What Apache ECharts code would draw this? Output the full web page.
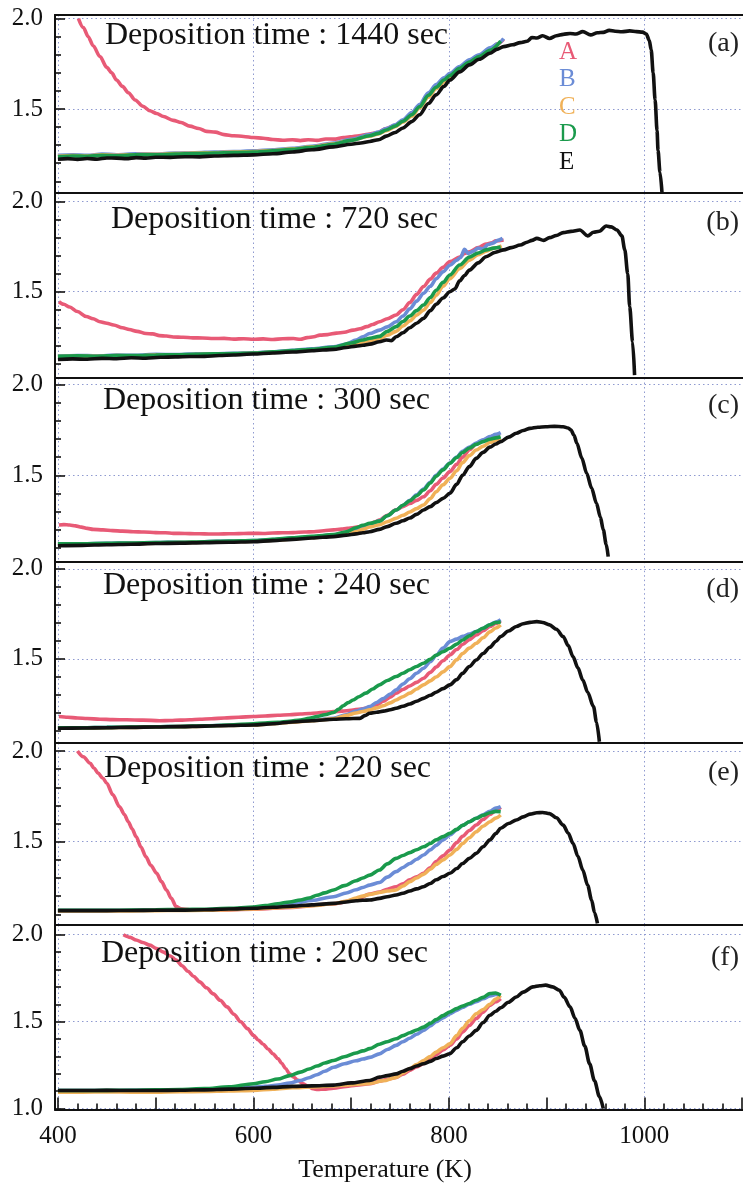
<!DOCTYPE html>
<html><head><meta charset="utf-8">
<script src="https://cdn.jsdelivr.net/npm/echarts@6/dist/echarts.min.js"></script>
<style>html,body{margin:0;padding:0;background:#fff}#c{width:743px;height:1186px}</style>
</head><body><div id="c"></div>
<script>
// ---------------- DATA ----------------
const seriesNames = ['A','B','C','D','E'];
const titles = ['Deposition time : 1440 sec','Deposition time : 720 sec','Deposition time : 300 sec','Deposition time : 240 sec','Deposition time : 220 sec','Deposition time : 200 sec'];
const panelTags = ['(a)','(b)','(c)','(d)','(e)','(f)'];
const xTickLabels = [400,600,800,1000];
const yTickLabels = [1.0,1.5,2.0];
const xName = 'Temperature (K)';

// (a) 1440 sec
const a_A = [[421,2.00],[426,1.95],[431,1.90],[436,1.85],[443,1.79],[450,1.73],[455,1.70],[460,1.66],[466,1.625],[472,1.59],[479,1.55],[487,1.515],[494,1.49],[501,1.475],[508,1.458],[518,1.437],[526,1.425],[535,1.405],[544,1.392],[552,1.376],[561,1.372],[570,1.358],[580,1.352],[590,1.348],[600,1.342],[610,1.338],[620,1.331],[630,1.327],[640,1.33],[648,1.325],[656,1.33],[665,1.326],[674,1.334],[684,1.333],[692,1.342],[699,1.346],[708,1.352],[717,1.36],[726,1.368],[736,1.392],[745,1.41],[753,1.435],[762,1.47],[770,1.515],[779,1.575],[787,1.628],[795,1.665],[801,1.69],[811,1.73],[821,1.765],[831,1.795],[842,1.83],[850,1.86],[856,1.885]];
const a_B = [[400,1.243],[415,1.246],[430,1.244],[445,1.25],[460,1.247],[480,1.252],[500,1.251],[520,1.256],[540,1.258],[560,1.262],[580,1.264],[600,1.268],[620,1.274],[640,1.283],[660,1.294],[682,1.312],[700,1.332],[719,1.358],[728,1.372],[736,1.392],[745,1.412],[753,1.44],[762,1.48],[770,1.525],[779,1.59],[787,1.635],[795,1.672],[801,1.697],[811,1.735],[821,1.772],[831,1.8],[842,1.838],[850,1.86],[856,1.89]];
const a_C = [[400,1.238],[415,1.242],[430,1.24],[445,1.246],[460,1.244],[480,1.248],[500,1.249],[520,1.253],[540,1.256],[560,1.258],[580,1.262],[600,1.265],[620,1.27],[640,1.279],[660,1.29],[682,1.307],[700,1.327],[719,1.35],[728,1.362],[736,1.38],[745,1.402],[753,1.428],[762,1.46],[770,1.505],[779,1.565],[787,1.612],[795,1.65],[801,1.678],[811,1.72],[821,1.755],[831,1.787],[842,1.82],[852,1.868]];
const a_D = [[400,1.236],[415,1.24],[430,1.238],[445,1.243],[460,1.241],[480,1.246],[500,1.246],[520,1.25],[540,1.253],[560,1.256],[580,1.259],[600,1.262],[620,1.268],[640,1.277],[660,1.288],[682,1.305],[700,1.326],[719,1.352],[728,1.365],[736,1.384],[745,1.405],[753,1.432],[762,1.468],[770,1.512],[779,1.575],[787,1.62],[795,1.66],[801,1.685],[811,1.725],[821,1.76],[831,1.79],[842,1.825],[853,1.876]];
const a_E = [[400,1.222],[410,1.225],[420,1.221],[430,1.226],[440,1.222],[450,1.229],[460,1.228],[470,1.225],[480,1.231],[490,1.228],[500,1.233],[515,1.232],[530,1.236],[545,1.235],[560,1.24],[580,1.243],[600,1.246],[620,1.252],[640,1.262],[660,1.274],[682,1.29],[700,1.305],[710,1.312],[719,1.32],[728,1.33],[736,1.35],[745,1.37],[753,1.395],[762,1.43],[770,1.468],[779,1.53],[787,1.578],[795,1.625],[801,1.66],[811,1.705],[821,1.744],[831,1.775],[842,1.808],[849,1.83],[856,1.845],[865,1.855],[873,1.867],[880,1.875],[885,1.895],[890,1.893],[896,1.905],[903,1.89],[910,1.905],[917,1.913],[924,1.918],[930,1.915],[937,1.928],[945,1.91],[952,1.922],[958,1.924],[964,1.935],[970,1.93],[977,1.927],[985,1.932],[992,1.928],[998,1.925],[1002,1.915],[1005,1.88],[1007,1.827],[1009,1.70],[1011,1.55],[1013,1.38],[1014,1.27],[1016,1.15],[1018,1.04]];

// (b) 720 sec
const b_A = [[401,1.444],[406,1.43],[412,1.415],[420,1.39],[429,1.362],[436,1.35],[443,1.333],[450,1.325],[457,1.315],[466,1.3],[473,1.29],[481,1.28],[490,1.268],[497,1.266],[504,1.256],[511,1.254],[518,1.249],[528,1.247],[538,1.244],[548,1.243],[559,1.24],[570,1.241],[580,1.237],[590,1.239],[600,1.236],[610,1.238],[620,1.235],[630,1.239],[641,1.24],[648,1.236],[655,1.245],[662,1.25],[668,1.259],[676,1.262],[685,1.27],[693,1.275],[702,1.287],[709,1.294],[716,1.306],[722,1.318],[729,1.333],[737,1.35],[746,1.371],[753,1.4],[760,1.44],[767,1.485],[774,1.528],[781,1.57],[787,1.603],[794,1.635],[801,1.667],[811,1.692],[816,1.712],[821,1.722],[830,1.745],[838,1.765],[844,1.772],[848,1.782],[856,1.787]];
const b_B = [[400,1.143],[420,1.146],[440,1.144],[460,1.148],[480,1.147],[500,1.152],[520,1.151],[540,1.155],[560,1.156],[580,1.158],[600,1.161],[620,1.167],[640,1.175],[660,1.183],[682,1.194],[695,1.21],[705,1.232],[712,1.25],[719,1.268],[729,1.287],[737,1.305],[746,1.333],[753,1.365],[760,1.405],[767,1.448],[774,1.491],[781,1.53],[787,1.572],[794,1.61],[801,1.647],[808,1.675],[812,1.69],[816,1.735],[820,1.712],[825,1.725],[830,1.742],[835,1.738],[840,1.762],[845,1.77],[850,1.785],[855,1.796]];
const b_C = [[400,1.14],[420,1.143],[440,1.141],[460,1.145],[480,1.144],[500,1.148],[520,1.148],[540,1.151],[560,1.153],[580,1.155],[600,1.158],[620,1.163],[640,1.17],[660,1.178],[682,1.188],[700,1.205],[719,1.228],[729,1.24],[737,1.258],[746,1.28],[753,1.31],[760,1.338],[767,1.37],[774,1.398],[781,1.44],[787,1.48],[794,1.53],[801,1.572],[811,1.628],[821,1.675],[830,1.705],[838,1.725],[846,1.742],[854,1.755]];
const b_D = [[400,1.141],[420,1.144],[440,1.142],[460,1.146],[480,1.145],[500,1.149],[520,1.15],[540,1.153],[560,1.155],[580,1.157],[600,1.16],[620,1.166],[640,1.173],[660,1.181],[682,1.192],[700,1.215],[712,1.232],[719,1.242],[729,1.252],[737,1.28],[746,1.306],[753,1.335],[760,1.365],[767,1.395],[774,1.426],[781,1.468],[787,1.508],[794,1.552],[801,1.593],[811,1.648],[821,1.692],[830,1.715],[838,1.732],[846,1.742],[853,1.748]];
const b_E = [[400,1.124],[415,1.127],[430,1.125],[445,1.13],[460,1.128],[475,1.133],[490,1.131],[505,1.136],[520,1.138],[535,1.14],[550,1.141],[565,1.146],[580,1.149],[600,1.154],[620,1.16],[640,1.165],[660,1.172],[682,1.18],[695,1.19],[705,1.198],[712,1.203],[719,1.209],[729,1.222],[736,1.232],[741,1.228],[746,1.25],[753,1.272],[760,1.3],[767,1.325],[774,1.352],[781,1.395],[787,1.43],[794,1.465],[801,1.5],[806,1.515],[811,1.56],[816,1.59],[821,1.62],[830,1.66],[838,1.694],[847,1.718],[856,1.732],[864,1.745],[873,1.759],[880,1.775],[885,1.785],[890,1.796],[897,1.785],[903,1.8],[910,1.812],[917,1.828],[925,1.835],[934,1.843],[942,1.81],[948,1.83],[954,1.836],[961,1.865],[966,1.86],[972,1.843],[977,1.81],[980,1.732],[983,1.6],[985,1.417],[988,1.22],[990,1.037]];

// (c) 300 sec
const c_A = [[401,1.227],[406,1.229],[412,1.227],[418,1.222],[424,1.215],[430,1.208],[436,1.203],[446,1.2],[456,1.196],[466,1.193],[477,1.19],[488,1.188],[500,1.185],[510,1.184],[518,1.181],[530,1.18],[540,1.179],[550,1.178],[559,1.177],[570,1.178],[580,1.179],[590,1.18],[600,1.181],[610,1.18],[620,1.183],[630,1.184],[641,1.185],[652,1.188],[662,1.19],[672,1.195],[682,1.2],[690,1.204],[696,1.208],[703,1.213],[709,1.218],[714,1.225],[719,1.232],[724,1.243],[729,1.254],[737,1.28],[746,1.31],[753,1.328],[760,1.345],[767,1.362],[774,1.382],[781,1.415],[787,1.45],[794,1.485],[801,1.52],[808,1.56],[814,1.6],[821,1.64],[828,1.672],[835,1.692],[842,1.71],[847,1.72],[852,1.73]];
const c_B = [[400,1.123],[425,1.124],[450,1.126],[475,1.128],[500,1.13],[525,1.132],[550,1.135],[575,1.138],[600,1.141],[620,1.147],[640,1.155],[660,1.162],[682,1.172],[695,1.185],[705,1.2],[712,1.215],[719,1.23],[729,1.25],[737,1.278],[746,1.309],[753,1.335],[760,1.362],[767,1.393],[774,1.425],[781,1.462],[787,1.5],[794,1.535],[801,1.568],[808,1.6],[814,1.632],[821,1.655],[828,1.678],[835,1.695],[842,1.713],[848,1.725],[853,1.735]];
const c_C = [[400,1.12],[425,1.121],[450,1.123],[475,1.125],[500,1.127],[525,1.13],[550,1.132],[575,1.135],[600,1.138],[620,1.143],[640,1.15],[660,1.158],[682,1.168],[695,1.178],[705,1.19],[712,1.203],[719,1.216],[729,1.228],[737,1.245],[746,1.264],[753,1.28],[760,1.298],[767,1.317],[774,1.337],[781,1.372],[787,1.41],[794,1.448],[801,1.483],[808,1.525],[814,1.57],[821,1.608],[828,1.639],[835,1.66],[842,1.68],[848,1.693],[853,1.703]];
const c_D = [[400,1.123],[425,1.124],[450,1.126],[475,1.128],[500,1.13],[525,1.132],[550,1.135],[575,1.138],[600,1.141],[620,1.148],[640,1.157],[660,1.165],[682,1.174],[695,1.19],[705,1.212],[712,1.225],[719,1.236],[729,1.248],[737,1.278],[746,1.309],[753,1.335],[760,1.36],[767,1.388],[774,1.419],[781,1.458],[787,1.495],[794,1.53],[801,1.566],[808,1.598],[814,1.625],[821,1.65],[828,1.67],[835,1.685],[842,1.698],[848,1.706],[853,1.712]];
const c_E = [[400,1.113],[425,1.115],[450,1.118],[475,1.121],[500,1.125],[525,1.127],[550,1.13],[575,1.132],[600,1.135],[620,1.141],[640,1.148],[660,1.155],[682,1.163],[695,1.171],[705,1.178],[712,1.184],[719,1.19],[729,1.203],[737,1.218],[746,1.236],[753,1.25],[760,1.265],[767,1.285],[774,1.309],[781,1.328],[787,1.35],[794,1.373],[801,1.401],[808,1.45],[814,1.5],[821,1.548],[828,1.593],[835,1.626],[842,1.655],[848,1.672],[853,1.685],[861,1.71],[869,1.731],[876,1.746],[883,1.758],[891,1.764],[899,1.767],[908,1.769],[917,1.767],[922,1.76],[925,1.749],[928,1.72],[931,1.676],[936,1.595],[941,1.511],[946,1.43],[951,1.346],[955,1.27],[958,1.2],[961,1.12],[963,1.053]];

// (d) 240 sec
const d_A = [[401,1.18],[410,1.176],[420,1.172],[430,1.169],[443,1.165],[456,1.163],[470,1.162],[487,1.16],[504,1.157],[515,1.158],[525,1.16],[535,1.162],[545,1.165],[557,1.168],[570,1.172],[585,1.176],[600,1.18],[612,1.183],[625,1.187],[637,1.19],[648,1.194],[657,1.197],[665,1.2],[673,1.204],[682,1.207],[691,1.21],[700,1.215],[710,1.222],[719,1.23],[726,1.245],[733,1.265],[740,1.288],[746,1.309],[753,1.33],[760,1.35],[767,1.37],[774,1.393],[781,1.425],[787,1.455],[794,1.49],[801,1.522],[808,1.552],[814,1.58],[821,1.607],[828,1.633],[835,1.657],[842,1.68],[848,1.697],[853,1.712]];
const d_B = [[400,1.117],[425,1.118],[450,1.12],[475,1.121],[500,1.123],[525,1.125],[550,1.128],[575,1.131],[600,1.135],[620,1.142],[640,1.15],[660,1.16],[682,1.17],[695,1.19],[705,1.21],[712,1.222],[719,1.235],[726,1.258],[733,1.28],[740,1.305],[746,1.328],[753,1.36],[760,1.39],[767,1.42],[774,1.448],[781,1.485],[787,1.52],[794,1.56],[801,1.596],[808,1.61],[814,1.625],[821,1.638],[828,1.652],[835,1.67],[842,1.69],[848,1.705],[853,1.717]];
const d_C = [[400,1.115],[425,1.116],[450,1.118],[475,1.12],[500,1.122],[525,1.124],[550,1.127],[575,1.13],[600,1.133],[620,1.14],[640,1.148],[660,1.157],[682,1.167],[695,1.185],[705,1.2],[712,1.208],[719,1.217],[726,1.228],[733,1.24],[740,1.256],[746,1.272],[753,1.29],[760,1.31],[767,1.333],[774,1.356],[781,1.378],[787,1.4],[794,1.428],[801,1.457],[808,1.495],[814,1.53],[821,1.56],[828,1.587],[835,1.618],[842,1.65],[848,1.672],[853,1.689]];
const d_D = [[400,1.117],[425,1.118],[450,1.12],[475,1.121],[500,1.123],[525,1.125],[550,1.128],[575,1.133],[600,1.14],[612,1.144],[625,1.148],[637,1.154],[648,1.161],[657,1.17],[665,1.18],[673,1.19],[682,1.202],[687,1.22],[692,1.24],[697,1.257],[702,1.272],[708,1.29],[715,1.31],[722,1.333],[729,1.356],[737,1.38],[746,1.402],[753,1.42],[760,1.44],[767,1.458],[774,1.476],[781,1.498],[787,1.52],[794,1.54],[801,1.559],[808,1.582],[814,1.605],[821,1.628],[828,1.652],[835,1.67],[842,1.69],[848,1.702],[853,1.707]];
const d_E = [[400,1.115],[425,1.116],[450,1.118],[475,1.12],[500,1.122],[525,1.124],[550,1.127],[575,1.13],[600,1.133],[620,1.14],[640,1.15],[660,1.157],[682,1.165],[695,1.168],[709,1.17],[714,1.185],[719,1.198],[726,1.204],[733,1.21],[740,1.218],[746,1.226],[753,1.237],[760,1.25],[767,1.265],[774,1.281],[781,1.298],[787,1.315],[794,1.335],[801,1.356],[808,1.385],[814,1.42],[821,1.458],[828,1.494],[835,1.53],[842,1.565],[848,1.597],[853,1.624],[861,1.655],[869,1.68],[876,1.695],[883,1.703],[890,1.707],[896,1.702],[903,1.689],[910,1.665],[917,1.624],[922,1.575],[927,1.513],[932,1.45],[937,1.383],[942,1.315],[948,1.235],[951,1.15],[954,1.04]];

// (e) 220 sec
const e_A = [[420,2.0],[426,1.968],[433,1.932],[437,1.905],[441,1.878],[446,1.85],[450,1.822],[456,1.76],[463,1.693],[468,1.65],[472,1.61],[476,1.57],[480,1.528],[485,1.47],[490,1.417],[495,1.37],[501,1.326],[506,1.28],[511,1.234],[516,1.188],[521,1.142],[526,1.13],[535,1.125],[560,1.124],[600,1.128],[640,1.138],[682,1.158],[705,1.18],[719,1.212],[729,1.222],[737,1.238],[746,1.252],[753,1.268],[760,1.29],[767,1.306],[774,1.326],[781,1.356],[787,1.39],[794,1.422],[801,1.454],[808,1.495],[814,1.53],[821,1.562],[828,1.592],[835,1.622],[842,1.65],[848,1.672],[853,1.69]];
const e_B = [[400,1.12],[425,1.12],[450,1.12],[475,1.121],[500,1.122],[525,1.124],[550,1.125],[575,1.129],[600,1.135],[620,1.146],[640,1.16],[660,1.176],[682,1.197],[695,1.217],[705,1.235],[712,1.248],[719,1.261],[729,1.275],[737,1.305],[746,1.335],[753,1.358],[760,1.38],[767,1.403],[774,1.427],[781,1.455],[787,1.48],[794,1.51],[801,1.537],[808,1.565],[814,1.59],[821,1.61],[828,1.629],[835,1.648],[842,1.668],[848,1.685],[853,1.693]];
const e_C = [[400,1.118],[425,1.118],[450,1.118],[475,1.119],[500,1.12],[525,1.121],[550,1.122],[575,1.126],[600,1.13],[620,1.135],[640,1.14],[660,1.148],[682,1.158],[695,1.172],[705,1.19],[712,1.2],[719,1.21],[729,1.22],[737,1.228],[746,1.234],[753,1.256],[760,1.28],[767,1.3],[774,1.32],[781,1.348],[787,1.375],[794,1.4],[801,1.427],[808,1.458],[814,1.49],[821,1.522],[828,1.555],[835,1.585],[842,1.61],[848,1.63],[853,1.647]];
const e_D = [[400,1.122],[425,1.122],[450,1.122],[475,1.123],[500,1.125],[525,1.126],[550,1.128],[575,1.133],[600,1.14],[612,1.148],[625,1.158],[637,1.168],[648,1.179],[657,1.19],[665,1.205],[673,1.218],[682,1.234],[693,1.258],[705,1.285],[712,1.3],[719,1.316],[729,1.344],[737,1.378],[746,1.408],[753,1.424],[760,1.44],[767,1.456],[774,1.472],[781,1.49],[787,1.51],[794,1.528],[801,1.546],[808,1.568],[814,1.59],[821,1.61],[828,1.629],[835,1.645],[842,1.66],[848,1.667],[853,1.665]];
const e_E = [[400,1.12],[425,1.12],[450,1.12],[475,1.121],[500,1.122],[525,1.123],[550,1.125],[575,1.129],[600,1.133],[620,1.139],[640,1.145],[660,1.152],[682,1.16],[695,1.168],[705,1.175],[712,1.177],[719,1.179],[729,1.188],[737,1.197],[746,1.206],[753,1.216],[760,1.228],[767,1.24],[774,1.252],[781,1.27],[787,1.29],[794,1.308],[801,1.326],[808,1.352],[814,1.38],[821,1.408],[828,1.436],[835,1.472],[842,1.51],[848,1.545],[853,1.574],[861,1.6],[869,1.62],[876,1.637],[883,1.652],[890,1.66],[896,1.661],[903,1.655],[910,1.632],[917,1.592],[922,1.548],[927,1.491],[932,1.42],[937,1.344],[942,1.26],[946,1.179],[949,1.11],[952,1.05]];

// (f) 200 sec
const f_A = [[467,2.0],[474,1.985],[480,1.97],[487,1.955],[494,1.94],[501,1.92],[508,1.9],[515,1.878],[521,1.854],[527,1.822],[533,1.79],[539,1.76],[545,1.729],[552,1.695],[559,1.66],[566,1.623],[573,1.585],[580,1.543],[587,1.5],[594,1.46],[600,1.421],[605,1.395],[610,1.37],[615,1.343],[620,1.316],[625,1.288],[629,1.26],[633,1.23],[637,1.2],[641,1.182],[645,1.165],[651,1.143],[656,1.128],[661,1.114],[666,1.11],[672,1.112],[682,1.118],[695,1.128],[705,1.135],[719,1.143],[729,1.158],[737,1.168],[746,1.18],[753,1.198],[760,1.22],[767,1.24],[774,1.258],[781,1.285],[787,1.31],[794,1.338],[801,1.364],[808,1.4],[814,1.44],[821,1.478],[828,1.518],[835,1.555],[842,1.594],[848,1.615],[853,1.633]];
const f_B = [[400,1.104],[425,1.104],[450,1.104],[475,1.105],[500,1.106],[525,1.107],[550,1.11],[575,1.115],[600,1.123],[612,1.128],[625,1.135],[637,1.147],[648,1.162],[657,1.178],[665,1.195],[673,1.215],[682,1.238],[693,1.258],[705,1.275],[712,1.285],[719,1.295],[729,1.315],[737,1.34],[746,1.364],[753,1.385],[760,1.405],[767,1.428],[774,1.45],[781,1.475],[787,1.5],[794,1.522],[801,1.545],[808,1.565],[814,1.582],[821,1.6],[828,1.615],[835,1.632],[842,1.648],[848,1.656],[853,1.652]];
const f_C = [[400,1.095],[425,1.095],[450,1.096],[475,1.095],[500,1.095],[525,1.097],[550,1.099],[575,1.102],[600,1.105],[620,1.112],[640,1.12],[660,1.125],[682,1.13],[700,1.138],[719,1.145],[733,1.16],[746,1.18],[753,1.205],[760,1.23],[767,1.253],[774,1.277],[781,1.3],[787,1.325],[794,1.35],[801,1.373],[808,1.42],[814,1.462],[821,1.505],[828,1.546],[835,1.57],[842,1.6],[848,1.63],[853,1.65]];
const f_D = [[400,1.104],[425,1.104],[450,1.105],[475,1.106],[500,1.108],[525,1.11],[550,1.115],[575,1.125],[600,1.143],[612,1.155],[625,1.17],[637,1.19],[648,1.21],[657,1.228],[665,1.245],[673,1.262],[682,1.277],[693,1.298],[705,1.32],[712,1.332],[719,1.345],[729,1.37],[737,1.385],[746,1.402],[753,1.42],[760,1.436],[767,1.452],[774,1.469],[781,1.49],[787,1.512],[794,1.535],[801,1.556],[808,1.575],[814,1.59],[821,1.605],[828,1.623],[835,1.64],[842,1.662],[848,1.665],[853,1.652]];
const f_E = [[400,1.104],[425,1.104],[450,1.105],[475,1.104],[500,1.104],[525,1.106],[550,1.108],[575,1.112],[600,1.117],[620,1.122],[640,1.128],[660,1.131],[682,1.135],[700,1.148],[719,1.162],[729,1.181],[737,1.19],[746,1.2],[753,1.215],[760,1.23],[767,1.245],[774,1.258],[781,1.272],[787,1.288],[794,1.302],[801,1.316],[808,1.35],[814,1.385],[821,1.418],[828,1.45],[835,1.495],[842,1.537],[848,1.56],[853,1.58],[861,1.612],[869,1.642],[876,1.67],[886,1.70],[893,1.707],[899,1.71],[906,1.7],[913,1.681],[918,1.64],[924,1.585],[929,1.52],[934,1.45],[939,1.36],[944,1.258],[949,1.16],[954,1.07],[958,1.0]];

const panelData = [
  [a_A,a_B,a_C,a_D,a_E],
  [b_A,b_B,b_C,b_D,b_E],
  [c_A,c_B,c_C,c_D,c_E],
  [d_A,d_B,d_C,d_D,d_E],
  [e_A,e_B,e_C,e_D,e_E],
  [f_A,f_B,f_C,f_D,f_E]
];

// ---------------- LAYOUT / STYLE ----------------
const FONT = 'Liberation Serif';
const COLORS = ['#e85a76','#6b8cd6','#f0b158','#1a9a4c','#111111'];
const GRIDC = '#8f9ad0';
const X_MIN = 397, X_MAX = 1104;
const layout = [
  {top:15,    height:178,   ymin:1.035, ymax:2.02,  tY:20,   gY:30},
  {top:193,   height:185,   ymin:1.021, ymax:2.048, tY:203.5,gY:209},
  {top:378,   height:183.7, ymin:1.025, ymax:2.035, tY:384.5,gY:391.5},
  {top:561.7, height:181.3, ymin:1.033, ymax:2.04,  tY:570,  gY:576},
  {top:743,   height:182,   ymin:1.041, ymax:2.044, tY:753,  gY:759},
  {top:925,   height:184.5, ymin:0.995, ymax:2.056, tY:937.5,gY:944}
];
const titleX = [105,111,103,103,104,101];
const drawOrder = [1,2,0,3,4];

const grids=[], xAxes=[], yAxes=[], series=[], titleComps=[];
layout.forEach((L,i)=>{
  const last = i === layout.length-1;
  grids.push({left:55, right:-3, top:L.top, height:L.height, containLabel:false, outerBoundsMode:'none'});
  xAxes.push({
    type:'value', gridIndex:i, position:'bottom', min:X_MIN, max:X_MAX, minInterval:100, maxInterval:100,
    axisLine:{show:true, onZero:false, lineStyle:{color:'#111', width:2.2}},
    axisTick:{show:last, inside:true, length:12, lineStyle:{color:'#111', width:1.6}},
    minorTick:{show:last, splitNumber:5, length:6, lineStyle:{color:'#111', width:1.6}},
    splitLine:{show:false}, minorSplitLine:{show:false},
    axisLabel:{show:last, margin:14, fontFamily:FONT, fontSize:25, color:'#111',
      formatter:(v)=> xTickLabels.some(t=>Math.abs(t-v)<1e-6) ? String(Math.round(v)) : ''},
    name: last ? xName : '', nameLocation:'middle', nameGap:48,
    nameTextStyle:{fontFamily:FONT, fontSize:26, color:'#111', padding:[0,31,0,0]}
  });
  xAxes.push({
    type:'value', gridIndex:i, position:'top', min:X_MIN, max:X_MAX, minInterval:200, maxInterval:200,
    axisLine:{show:true, onZero:false, lineStyle:{color:'#111', width:2.2}},
    axisTick:{show:false}, axisLabel:{show:false},
    splitLine:{show:true, lineStyle:{color:GRIDC, type:[1.5,3], width:1}}
  });
  yAxes.push({
    type:'value', gridIndex:i, position:'left', min:L.ymin, max:L.ymax, minInterval:0.5, maxInterval:0.5,
    axisLine:{show:true, onZero:false, lineStyle:{color:'#111', width:2}},
    axisTick:{show:true, inside:true, length:10, lineStyle:{color:'#111', width:1.6}},
    minorTick:{show:true, splitNumber:5, length:6, lineStyle:{color:'#111', width:1.6}},
    splitLine:{show:true, lineStyle:{color:GRIDC, type:[1.5,3], width:1}},
    axisLabel:{margin:12, fontFamily:FONT, fontSize:25, color:'#111',
      formatter:(v)=> yTickLabels.some(t=>Math.abs(t-v)<1e-6) ? v.toFixed(1) : ''}
  });
  drawOrder.forEach(k=>{
    series.push({
      type:'line', name:seriesNames[k], xAxisIndex:i*2, yAxisIndex:i, data:panelData[i][k],
      showSymbol:false, symbol:'none', smooth:0.3, smoothMonotone:'x',
      lineStyle:{color:COLORS[k], width:3.6}, itemStyle:{color:COLORS[k]},
      emphasis:{disabled:true}, silent:true, z: 2 + k
    });
  });
  titleComps.push({text:titles[i], left:titleX[i], top:L.tY, padding:0,
    textStyle:{fontFamily:FONT, fontSize:32, fontWeight:'normal', color:'#111'}});
  titleComps.push({text:panelTags[i], right:4, top:L.gY, padding:0,
    textStyle:{fontFamily:FONT, fontSize:28, fontWeight:'normal', color:'#222'}});
});

const chart = echarts.init(document.getElementById('c'), null, {renderer:'canvas'});
chart.setOption({
  animation:false,
  backgroundColor:'#fff',
  title:titleComps,
  legend:{orient:'vertical', left:554, top:39.5, padding:0, icon:'none', itemWidth:0, itemHeight:25, itemGap:2.5,
    selectedMode:false,
    textStyle:{fontFamily:FONT, fontSize:25, lineHeight:25},
    data: seriesNames.map((n,k)=>({name:n, textStyle:{color:COLORS[k]}}))},
  grid:grids, xAxis:xAxes, yAxis:yAxes, series:series
});
</script></body></html>
